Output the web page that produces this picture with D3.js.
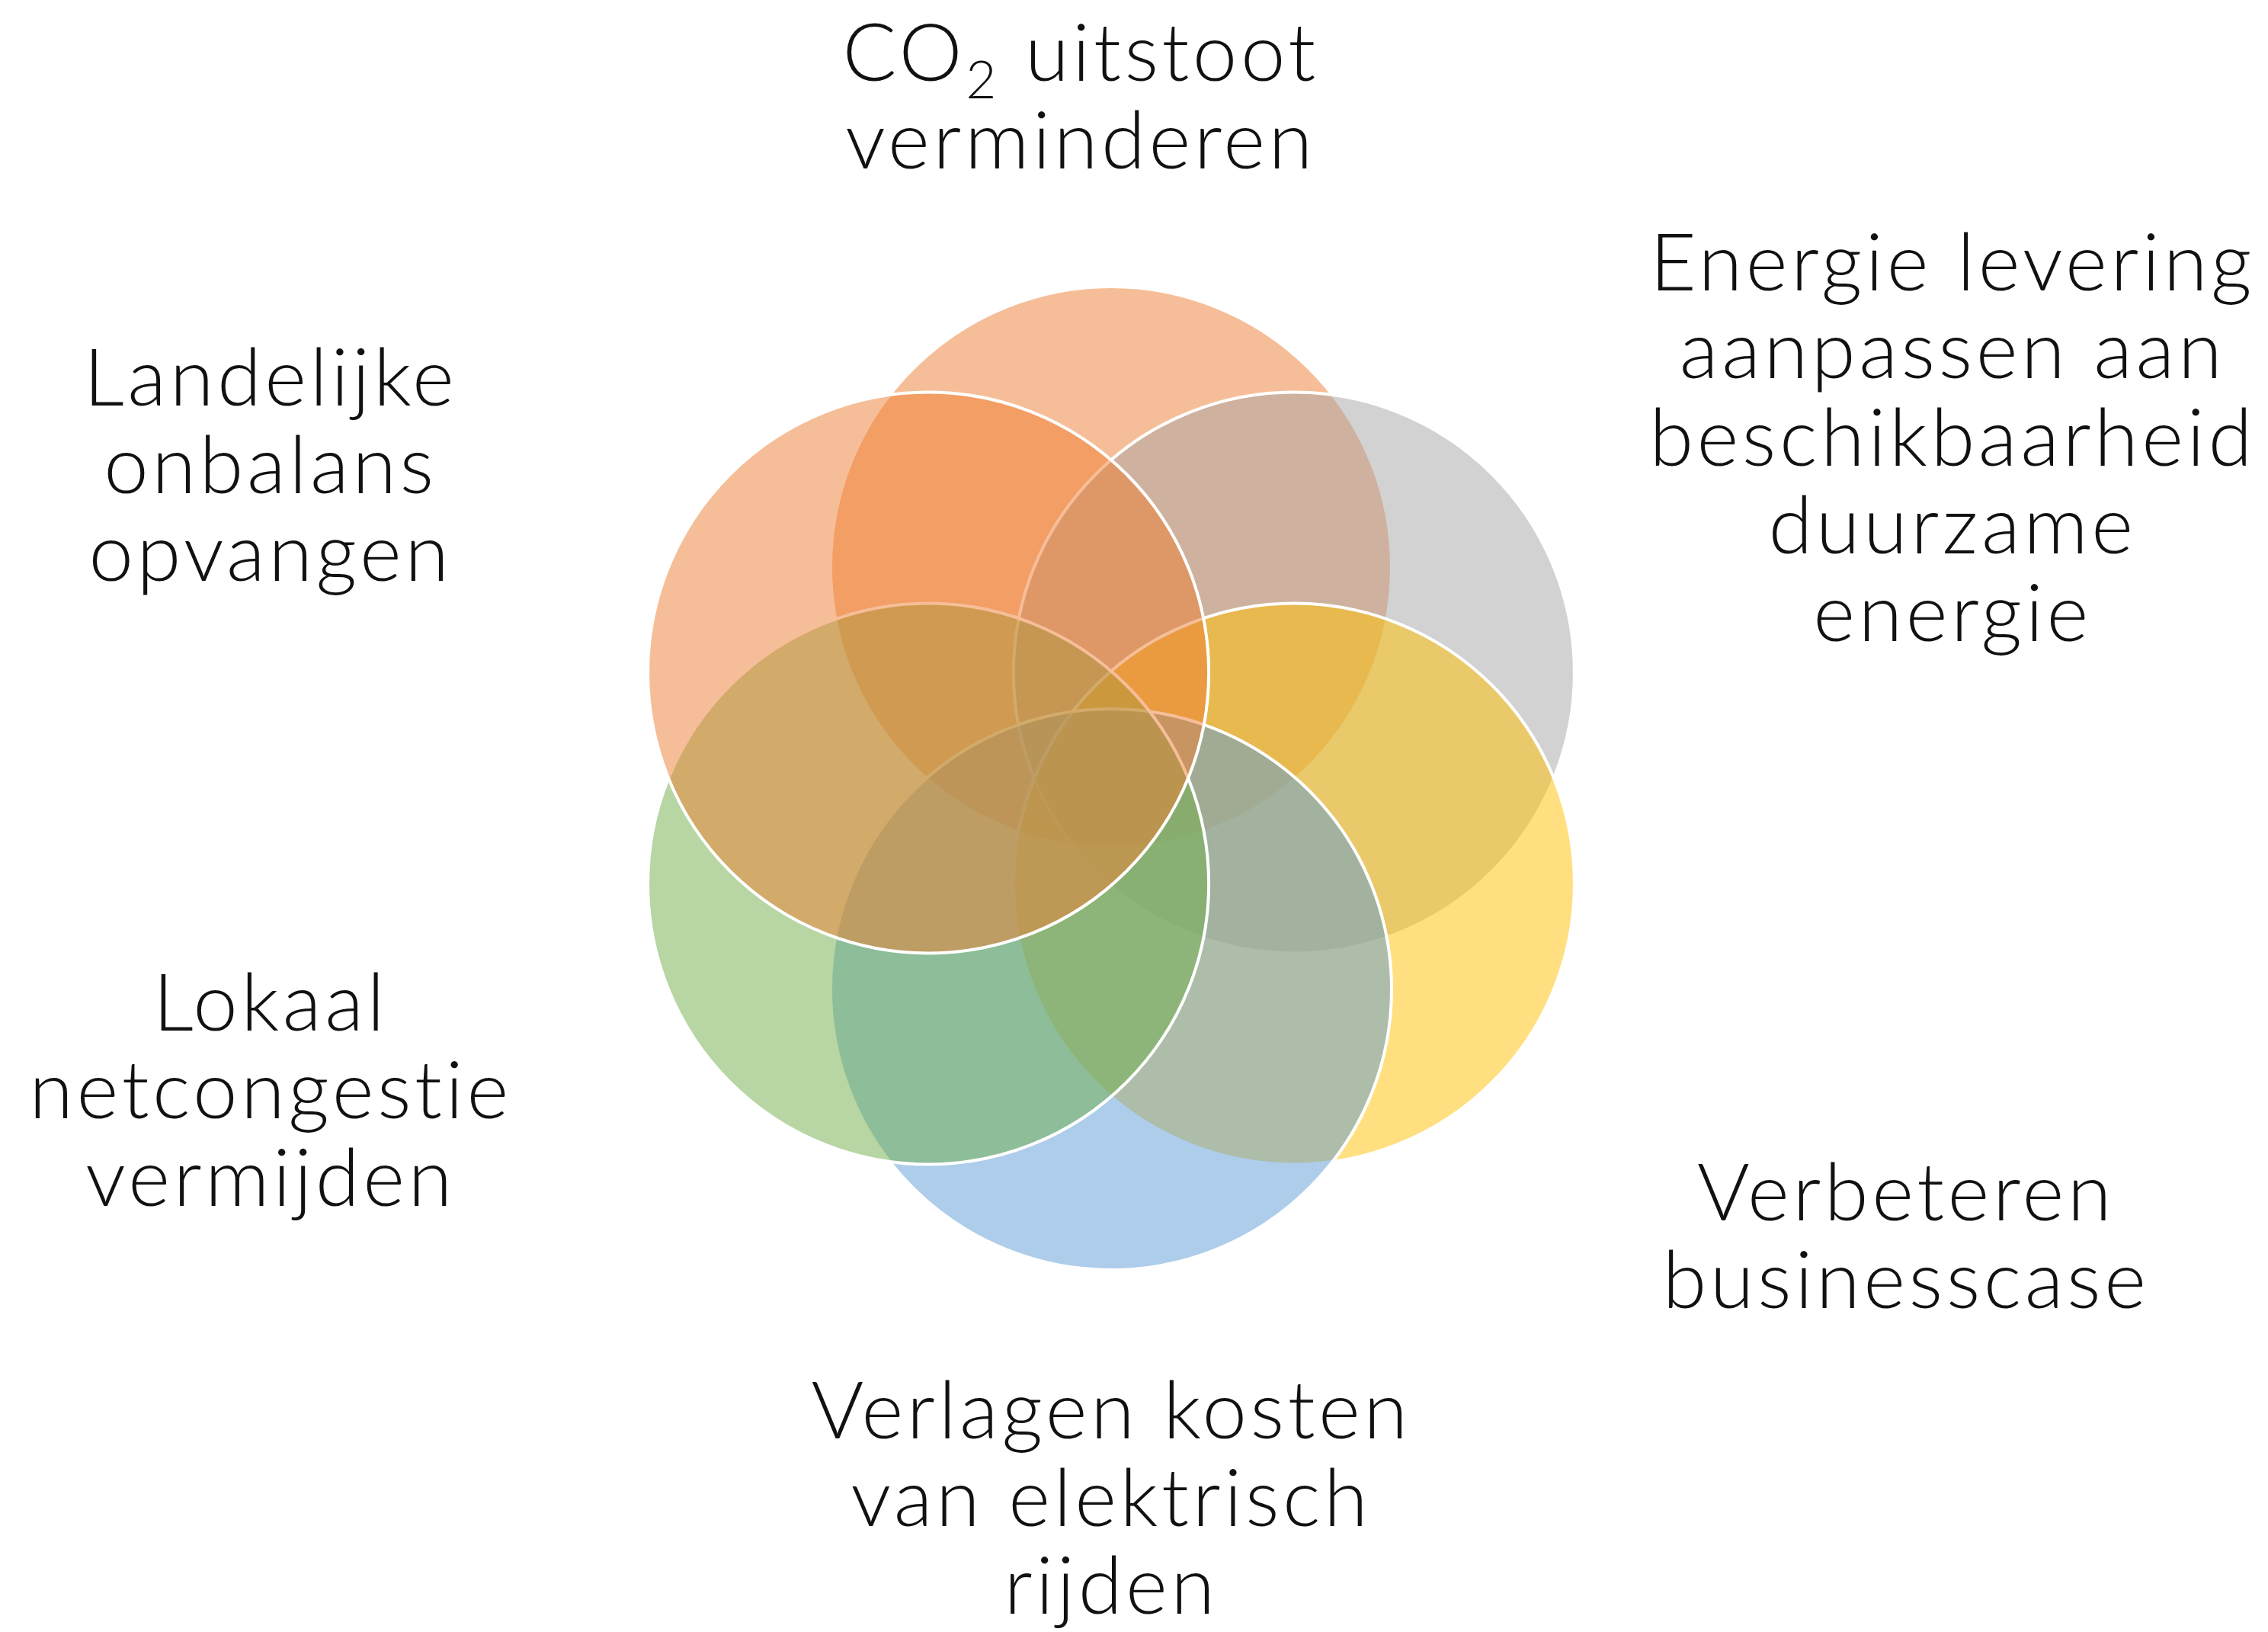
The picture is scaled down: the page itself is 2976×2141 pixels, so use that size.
<!DOCTYPE html>
<html>
<head>
<meta charset="utf-8">
<script src="https://cdn.jsdelivr.net/npm/d3@7"></script>
<style>
  body { margin: 0; background: #fff; }
</style>
</head>
<body>
<div id="chart"></div>
<script>
// Themes, clockwise from the top circle
var themes = ["CO2", "Energie", "Businesscase", "Kosten", "Netcongestie", "Onbalans"];
var labelLines = [
    ["CO_2 uitstoot", "verminderen"],
    ["Energie levering", "aanpassen aan", "beschikbaarheid", "duurzame", "energie"],
    ["Verbeteren", "businesscase"],
    ["Verlagen kosten", "van elektrisch", "rijden"],
    ["Lokaal", "netcongestie", "vermijden"],
    ["Landelijke", "onbalans", "opvangen"]
];
var colors = ["#ED7D31", "#A5A5A5", "#FFC000", "#5B9BD5", "#70AD47", "#ED7D31"];

// layout
var width = 2976, height = 2141;
var cx = 1458, cy = 1021, R = 368, ring = 277;
var fontSize = 105, lineHeight = 115;
// first-line baseline of each label block
var labelAnchor = [
    { x: 1418, y: 106 },
    { x: 2562, y: 381 },
    { x: 2501, y: 1601 },
    { x: 1458, y: 1887 },
    { x: 355, y: 1352 },
    { x: 355, y: 532 }
];

var svg = d3.select("#chart")
    .append("svg")
    .attr("width", width)
    .attr("height", height);

var angle = d3.scaleLinear()
    .domain([0, themes.length])
    .range([-Math.PI / 2, 3 * Math.PI / 2]);

var data = themes.map(function(t, i) {
    return { name: t, color: colors[i], lines: labelLines[i], a: angle(i) };
});

// circles, drawn in order so the last (upper left) sits on top
svg.append("g")
    .selectAll("circle")
    .data(data)
    .enter()
    .append("circle")
    .attr("cx", function(d) { return cx + ring * Math.cos(d.a) })
    .attr("cy", function(d) { return cy + ring * Math.sin(d.a) })
    .attr("r", R)
    .style("fill", function(d) { return d.color })
    .style("fill-opacity", 0.5)
    .style("stroke", "#fff")
    .style("stroke-width", 4);

// labels
var labels = svg.append("g")
    .selectAll("text")
    .data(data)
    .enter()
    .append("text")
    .attr("text-anchor", "middle")
    .style("font-family", "Lato, 'Open Sans', sans-serif")
    .style("font-weight", 300)
    .style("font-size", fontSize + "px")
    .style("letter-spacing", "4.5px")
    .style("font-variant-ligatures", "none")
    .style("fill", "#111");

labels.each(function(d, i) {
    var t = d3.select(this);
    d.lines.forEach(function(line, j) {
        var x = labelAnchor[i].x, y = labelAnchor[i].y + j * lineHeight;
        if (line.indexOf("_") >= 0) {
            // subscript like CO_2
            var parts = line.split("_");
            var tl = t.append("tspan").attr("x", x).attr("y", y);
            tl.append("tspan").text(parts[0]);
            tl.append("tspan")
                .attr("dy", 0.22 * fontSize)
                .style("font-size", 0.66 * fontSize + "px")
                .text(parts[1].charAt(0));
            tl.append("tspan")
                .attr("dy", -0.22 * fontSize)
                .text(parts[1].slice(1));
        } else {
            t.append("tspan").attr("x", x).attr("y", y).text(line);
        }
    });
});
</script>
</body>
</html>
